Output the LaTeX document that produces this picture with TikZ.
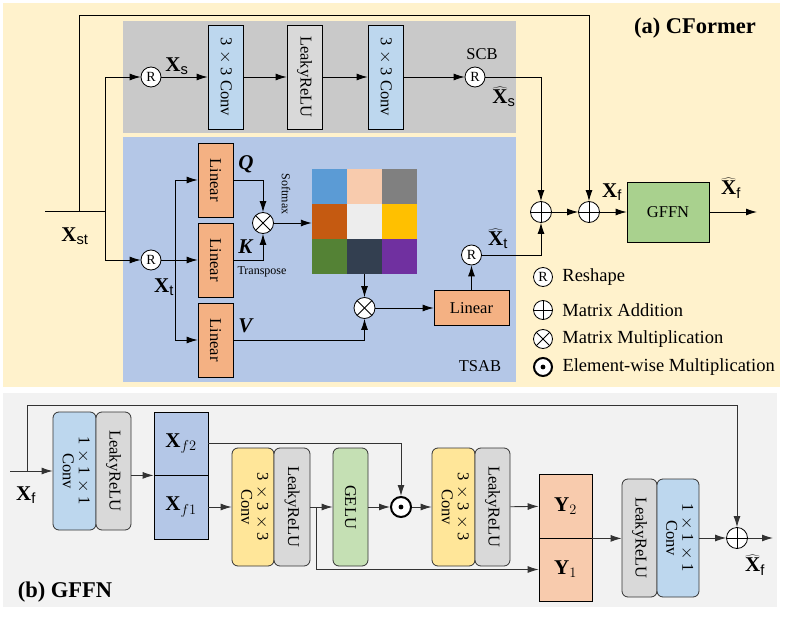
\documentclass[tikz,border=0pt]{standalone}
\usepackage{fontspec}
\setmainfont{Liberation Serif}
\setsansfont{Liberation Sans}
\usepackage{graphicx}
\usepackage{xcolor}
\usepackage{tikz}
\usetikzlibrary{shapes, arrows, arrows.meta, calc, fit, positioning}

\definecolor{cream}{HTML}{FFF2CC}
\definecolor{panelgray}{HTML}{F2F2F2}
\definecolor{scbgray}{HTML}{C9C9C9}
\definecolor{tsabblue}{HTML}{B4C7E7}
\definecolor{convblue}{HTML}{BDD7EE}
\definecolor{relugray}{HTML}{D9D9D9}
\definecolor{linorange}{HTML}{F4B183}
\definecolor{ffngreen}{HTML}{A9D18E}
\definecolor{convyellow}{HTML}{FFE699}
\definecolor{gelugreen}{HTML}{C5E0B4}
\definecolor{ypeach}{HTML}{F8CBAD}

\newcommand{\vtext}[1]{\rotatebox{-90}{#1}}
\newcommand{\vtwo}[2]{\rotatebox{-90}{\begin{tabular}{@{}c@{}}#1\\[-2pt]#2\end{tabular}}}

\tikzstyle{block} = [rectangle, draw, line width=0.8pt, inner sep=0pt,
    font=\fontsize{16.5}{18}\selectfont]
\tikzstyle{rblock} = [block, draw=black!80, rounded corners=6pt]
\tikzstyle{line} = [draw, line width=0.9pt, -{Latex[length=11pt, width=7pt]}]
\tikzstyle{reshape} = [circle, draw, fill=white, line width=0.8pt, minimum size=20pt,
    inner sep=0pt, font=\fontsize{14}{14}\selectfont]
\tikzstyle{addop} = [circle, draw, fill=white, line width=0.8pt, minimum size=21pt,
    inner sep=0pt, path picture={
    \draw (path picture bounding box.north) -- (path picture bounding box.south);
    \draw (path picture bounding box.west) -- (path picture bounding box.east);}]
\tikzstyle{mulop} = [circle, draw, fill=white, line width=0.8pt, minimum size=21pt,
    inner sep=0pt, path picture={
    \draw (path picture bounding box.north west) -- (path picture bounding box.south east);
    \draw (path picture bounding box.south west) -- (path picture bounding box.north east);}]
\tikzstyle{emulop} = [circle, draw, fill=white, line width=2pt, minimum size=20pt,
    inner sep=0pt, path picture={\fill[black] (path picture bounding box.center) circle (2.4pt);}]

\begin{document}
\begin{tikzpicture}[x=1pt, y=-1pt,
    lbl/.style={font=\fontsize{21}{22}\selectfont},
    small/.style={font=\fontsize{12}{12}\selectfont},
    legend/.style={anchor=west, font=\fontsize{18.5}{20}\selectfont},
    title/.style={font=\fontsize{22.5}{24}\selectfont\bfseries},
    vbox/.style={minimum width=35pt, minimum height=104pt},
    qbox/.style={minimum width=35pt, minimum height=74pt},
    gbox/.style={minimum height=118pt}
    ]
    \useasboundingbox (0,0) rectangle (793,618);
    % Panels
    \fill[cream] (3,3) rectangle (780,387);
    \fill[panelgray] (3,393) rectangle (777,607);
    \fill[scbgray] (123,21) rectangle (516,133);
    \fill[tsabblue] (123,137) rectangle (516,382);

    % SCB
    \node [reshape] (rS) at (151,77) {R};
    \node [block, vbox, fill=convblue] (convA) at (225.5,77) {\vtext{3 $\times$ 3 Conv}};
    \node [block, vbox, fill=relugray, right of=convA, node distance=79pt] (reluA) {\vtext{LeakyReLU}};
    \node [block, vbox, fill=convblue, right of=reluA, node distance=81pt] (convB) {\vtext{3 $\times$ 3 Conv}};
    \node [reshape] (rSo) at (475,77) {R};
    \node [lbl] (xs) at (177,66) {$\mathbf{X}_{\mathsf{s}}$};
    \node [lbl] (xso) at (504,97) {$\widehat{\mathbf{X}}_{\mathsf{s}}$};
    \node [block, draw=none] (scb) at (482,54) {SCB};

    % TSAB
    \node [reshape] (rT) at (151,260) {R};
    \node [block, qbox, fill=linorange] (linK) at (215.5,260) {\vtext{Linear}};
    \node [block, qbox, fill=linorange, above of=linK, node distance=80pt] (linQ) {\vtext{Linear}};
    \node [block, qbox, fill=linorange, below of=linK, node distance=80pt] (linV) {\vtext{Linear}};
    \node [mulop] (mulA) at (263,223) {};
    \node [mulop] (mulB) at (364.5,308) {};
    \node [block, fill=linorange, minimum width=75pt, minimum height=35pt] (linO) at (471.5,308) {Linear};
    \node [reshape] (rTo) at (471.5,255) {R};
    \node [lbl] (xt) at (164,287) {$\mathbf{X}_{\mathsf{t}}$};
    \node [lbl] (xto) at (498,239) {$\widehat{\mathbf{X}}_{\mathsf{t}}$};
    \node [lbl] (q) at (246,164) {\textbf{\textit{Q}}};
    \node [lbl] (k) at (246,247) {\textbf{\textit{K}}};
    \node [lbl] (v) at (246,326) {\textbf{\textit{V}}};
    \node [small] (tr) at (262,272) {Transpose};
    \node [small, rotate=-90] (sm) at (286,194) {Softmax};
    \node [block, draw=none] (tsab) at (480,366) {TSAB};

    % attention map
    \foreach \row/\cols in {0/{5B9BD5,F8CBAD,808080}, 1/{C55A11,EDEDED,FFC000}, 2/{548235,333F50,7030A0}}
      \foreach \hex [count=\k from 0] in \cols {
        \definecolor{cell}{HTML}{\hex}
        \fill[cell] (312+35*\k, 169+35*\row) rectangle +(35,35);
      }
    \node [fit={(312,169) (417,274)}, inner sep=0pt] (attn) {};

    % fusion
    \node [addop] (add1) at (541,212) {};
    \node [addop] (add2) at (589,212) {};
    \node [block, fill=ffngreen, minimum width=82pt, minimum height=60pt] (gffn) at (668,212) {GFFN};
    \node [lbl] (xf) at (612,192) {$\mathbf{X}_{\mathsf{f}}$};
    \node [lbl] (xfo) at (731,188) {$\widehat{\mathbf{X}}_{\mathsf{f}}$};
    \node [lbl] (xst) at (75,236) {$\mathbf{X}_{\mathsf{st}}$};

    % Edges (a)
    \coordinate (in) at (45,211);
    \coordinate (split) at (105,211);
    \coordinate (skip) at (79,211);
    \coordinate (top) at (79,15);
    \coordinate (qkv) at (175,260);
    \coordinate (out) at (757,212);
    \draw [line width=0.9pt] (in) -- (split);
    \path [line] (skip) -- (top) -| (add2);
    \path [line] (split) |- (rS);
    \path [line] (split) |- (rT);
    \path [line] (rS) -- (convA);
    \path [line] (convA) -- (reluA);
    \path [line] (reluA) -- (convB);
    \path [line] (convB) -- (rSo);
    \path [line] (rSo) -| (add1);
    \path [line] (rT) -- (linK);
    \path [line] (qkv) |- (linQ);
    \path [line] (qkv) |- (linV);
    \path [line] (linQ) -| (mulA);
    \path [line] (linK) -| (mulA);
    \path [line] (mulA) -- (mulA -| attn.west);
    \path [line] (attn.south) -- (mulB);
    \path [line] (linV) -| (mulB);
    \path [line] (mulB) -- (linO);
    \path [line] (linO) -- (rTo);
    \path [line] (rTo) -| (add1);
    \path [line] (add1) -- (add2);
    \path [line] (add2) -- (gffn);
    \path [line] (gffn) -- (out);

    % Legend
    \node [reshape, minimum size=19pt] (kR) at (543,277) {R};
    \node [addop, minimum size=19pt] (kA) at (543,310) {};
    \node [mulop, minimum size=19pt] (kM) at (543,339) {};
    \node [emulop, minimum size=18pt] (kE) at (543,367) {};
    \node [legend, right=6pt of kR] {Reshape};
    \node [legend, right=6pt of kA] {Matrix Addition};
    \node [legend, right=6pt of kM] {Matrix Multiplication};
    \node [legend, right=6pt of kE] {Element-wise Multiplication};
    \node [title] (ta) at (695,28) {(a) CFormer};

    % GFFN
    \node [rblock, gbox, fill=convblue, minimum width=43pt] (convC) at (74.5,471) {\vtwo{1 $\times$ 1 $\times$ 1}{Conv}};
    \node [rblock, gbox, fill=relugray, minimum width=35pt, right of=convC, node distance=39pt] (reluC) {\vtext{LeakyReLU}};
    \node [block, fill=tsabblue, minimum width=54pt, minimum height=63pt, lbl] (xfTop) at (181,443.5) {$\mathbf{X}_{f2}$};
    \node [block, fill=tsabblue, minimum width=54pt, minimum height=64pt, lbl] (xfBot) at (181,507) {$\mathbf{X}_{f1}$};
    \node [rblock, gbox, fill=convyellow, minimum width=42pt] (convD) at (253,507) {\vtwo{3 $\times$ 3 $\times$ 3}{Conv}};
    \node [rblock, gbox, fill=relugray, minimum width=36pt, right of=convD, node distance=39pt] (reluD) {\vtext{LeakyReLU}};
    \node [rblock, gbox, fill=gelugreen, minimum width=35pt] (gelu) at (350.5,507) {\vtext{GELU}};
    \node [emulop] (emul) at (401,507) {};
    \node [rblock, gbox, fill=convyellow, minimum width=43pt] (convE) at (453.5,507) {\vtwo{3 $\times$ 3 $\times$ 3}{Conv}};
    \node [rblock, gbox, fill=relugray, minimum width=35pt, right of=convE, node distance=39pt] (reluE) {\vtext{LeakyReLU}};
    \node [block, fill=ypeach, minimum width=53pt, minimum height=64pt, lbl] (yTop) at (565.5,506) {$\mathbf{Y}_2$};
    \node [block, fill=ypeach, minimum width=53pt, minimum height=63pt, lbl] (yBot) at (565.5,569.5) {$\mathbf{Y}_1$};
    \node [rblock, gbox, fill=relugray, minimum width=35pt] (reluF) at (639.5,538) {\vtext{LeakyReLU}};
    \node [rblock, gbox, fill=convblue, minimum width=42pt, right of=reluF, node distance=38.5pt] (convF) {\vtwo{1 $\times$ 1 $\times$ 1}{Conv}};
    \node [addop] (addF) at (737,538) {};
    \node [lbl] (xfin) at (26,495) {$\mathbf{X}_{\mathsf{f}}$};
    \node [lbl] (xfout) at (755,565) {$\widehat{\mathbf{X}}_{\mathsf{f}}$};
    \node [title] (tb) at (65,592) {(b) GFFN};

    % Edges (b)
    \coordinate (fin) at (10,471);
    \coordinate (gskip) at (27,471);
    \coordinate (gtop) at (27,405);
    \coordinate (gsplit) at (316,507);
    \coordinate (gout) at (773,538);
    \begin{scope}[black!80]
    \path [line] (fin) -- (convC);
    \path [line] (gskip) -- (gtop) -| (addF);
    \path [line] (reluC.east |- xfTop.south west) -- (xfTop.south west);
    \path [line] (xfBot) -- (convD);
    \draw [line width=0.9pt] (reluD) -- (gsplit);
    \path [line] (gsplit) -- (gelu);
    \path [line] (gsplit) |- (yBot);
    \path [line] (gelu) -- (emul);
    \path [line] (xfTop) -| (emul);
    \path [line] (emul) -- (convE);
    \path [line] (reluE) -- (yTop);
    \path [line] (yTop.south east) -- (yTop.south east -| reluF.west);
    \path [line] (convF) -- (addF);
    \path [line] (addF) -- (gout);
    \end{scope}
\end{tikzpicture}
\end{document}
